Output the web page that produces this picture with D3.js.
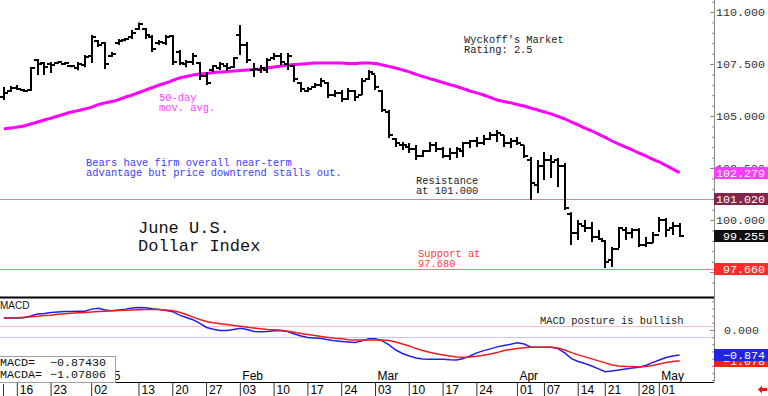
<!DOCTYPE html>
<html>
<head>
<meta charset="utf-8">
<script src="https://cdnjs.cloudflare.com/ajax/libs/d3/7.8.5/d3.min.js"></script>
<style>
  body { margin: 0; background: #fff; }
  svg { display: block; }
  .mono { font-family: "Liberation Mono", "DejaVu Sans Mono", monospace; }
  .sans { font-family: "Liberation Sans", Arial, sans-serif; }
</style>
</head>
<body>
<svg id="chart" width="768" height="396"></svg>
<script>
// trading days on the chart (Dec 12 2024 .. May 6 2025)
var dates = [
  "2024-12-12","2024-12-13","2024-12-16","2024-12-17","2024-12-18","2024-12-19","2024-12-20","2024-12-23","2024-12-24","2024-12-26","2024-12-27","2024-12-30","2024-12-31",
  "2025-01-02","2025-01-03","2025-01-06","2025-01-07","2025-01-08","2025-01-09","2025-01-10","2025-01-13","2025-01-14","2025-01-15","2025-01-16","2025-01-17",
  "2025-01-20","2025-01-21","2025-01-22","2025-01-23","2025-01-24","2025-01-27","2025-01-28","2025-01-29","2025-01-30","2025-01-31",
  "2025-02-03","2025-02-04","2025-02-05","2025-02-06","2025-02-07","2025-02-10","2025-02-11","2025-02-12","2025-02-13","2025-02-14",
  "2025-02-17","2025-02-18","2025-02-19","2025-02-20","2025-02-21","2025-02-24","2025-02-25","2025-02-26","2025-02-27","2025-02-28",
  "2025-03-03","2025-03-04","2025-03-05","2025-03-06","2025-03-07","2025-03-10","2025-03-11","2025-03-12","2025-03-13","2025-03-14",
  "2025-03-17","2025-03-18","2025-03-19","2025-03-20","2025-03-21","2025-03-24","2025-03-25","2025-03-26","2025-03-27","2025-03-28","2025-03-31",
  "2025-04-01","2025-04-02","2025-04-03","2025-04-04","2025-04-07","2025-04-08","2025-04-09","2025-04-10","2025-04-11",
  "2025-04-14","2025-04-15","2025-04-16","2025-04-17","2025-04-21","2025-04-22","2025-04-23","2025-04-24","2025-04-25",
  "2025-04-28","2025-04-29","2025-04-30","2025-05-01","2025-05-02","2025-05-05","2025-05-06"
];

var opens = [
  105.90,106.20,106.35,106.25,106.25,107.70,107.55,107.50,107.55,107.50,
  107.40,107.30,107.45,107.90,108.60,108.50,107.90,108.50,108.65,108.80,
  109.20,109.20,108.80,108.50,108.50,108.85,108.10,107.50,107.60,107.55,
  106.90,107.20,107.30,107.40,107.35,108.90,108.40,107.20,107.20,107.20,
  107.80,107.90,107.50,107.40,106.60,106.20,106.40,106.50,106.60,106.00,
  106.10,105.80,106.20,106.00,106.80,107.00,106.20,105.20,103.90,103.60,
  103.50,103.40,103.10,103.30,103.60,103.40,103.10,103.20,103.30,103.70,
  103.80,103.70,103.90,104.10,104.10,103.70,103.80,103.60,102.90,101.70,
  102.60,102.90,102.90,102.60,100.30,99.40,99.70,99.60,99.20,99.00,
  98.10,98.60,99.50,99.40,99.50,98.80,98.90,99.30,100.00,99.60,99.70
];
var highs = [
  106.40,106.44,106.49,106.30,107.36,107.74,107.60,107.60,107.62,107.58,
  107.45,107.60,107.93,108.89,108.65,108.56,108.08,108.70,108.75,109.13,
  109.50,109.23,108.89,108.65,108.89,108.89,108.17,107.69,108.03,107.60,
  107.12,107.45,107.60,107.55,107.84,109.37,108.56,107.55,107.45,107.79,
  108.03,108.03,108.03,107.45,106.63,106.39,106.59,106.83,106.63,106.25,
  106.25,106.35,106.25,106.83,107.21,106.97,106.25,105.29,103.94,103.75,
  103.70,103.61,103.37,103.75,103.75,103.51,103.46,103.51,103.75,103.85,
  103.99,104.09,104.23,104.33,104.09,103.94,103.99,103.61,103.03,102.88,
  103.27,103.13,102.98,102.74,100.38,100.00,100.00,99.90,99.52,99.04,
  98.70,99.66,99.66,99.61,99.61,99.18,99.42,100.14,100.10,99.90,99.86
];
var lows = [
  105.77,106.15,106.25,106.15,106.20,106.97,106.97,107.07,107.50,107.45,
  107.35,107.20,107.35,107.55,108.32,107.26,107.84,108.41,108.60,108.70,
  109.13,108.70,108.08,108.41,108.41,107.45,107.45,107.35,107.45,106.73,
  106.49,107.12,107.21,107.16,107.31,107.93,107.55,106.88,107.07,107.07,
  107.69,107.45,107.21,106.63,106.15,106.15,106.35,106.39,105.87,105.91,
  105.67,105.77,105.72,106.01,106.73,106.25,105.19,103.94,103.51,103.37,
  103.22,102.88,103.03,103.27,103.27,102.98,102.88,102.98,103.03,103.46,
  103.51,103.61,103.85,103.75,103.51,103.46,103.61,102.98,100.96,101.30,
  101.92,102.02,101.59,100.48,98.80,99.04,99.42,98.94,99.04,97.69,
  97.74,98.65,99.04,99.13,98.70,98.70,98.89,99.42,99.18,99.28,99.18
];
var closes = [
  106.10,106.35,106.30,106.20,107.30,107.50,107.35,107.45,107.60,107.55,
  107.40,107.50,107.85,108.80,108.40,107.50,108.00,108.60,108.70,109.00,
  109.40,108.90,108.20,108.55,108.80,107.60,107.55,107.60,107.90,106.90,
  106.60,107.40,107.50,107.30,107.80,108.40,107.70,107.25,107.30,107.70,
  107.90,107.60,107.90,106.80,106.30,106.30,106.50,106.70,106.00,106.10,
  105.80,106.20,105.90,106.70,107.10,106.40,105.30,104.10,103.70,103.60,
  103.40,103.10,103.30,103.60,103.40,103.10,103.20,103.40,103.70,103.80,
  103.70,103.90,104.10,104.20,103.70,103.80,103.70,103.10,101.80,102.60,
  102.90,102.80,102.60,100.60,99.40,99.80,99.60,99.20,99.10,98.00,
  98.60,99.60,99.40,99.50,98.80,98.90,99.30,100.00,99.50,99.70,99.255
];
// 50-day moving average
var ma50 = [
  104.38,104.42,104.47,104.52,104.62,104.71,104.81,104.90,105.00,105.10,
  105.19,105.26,105.34,105.43,105.55,105.63,105.70,105.79,105.91,106.01,
  106.13,106.25,106.37,106.49,106.59,106.71,106.83,106.90,106.97,107.02,
  107.04,107.09,107.12,107.14,107.16,107.19,107.21,107.24,107.26,107.31,
  107.36,107.40,107.45,107.48,107.50,107.52,107.55,107.55,107.55,107.55,
  107.55,107.52,107.52,107.55,107.55,107.52,107.45,107.38,107.31,107.21,
  107.12,107.00,106.90,106.80,106.71,106.61,106.51,106.42,106.32,106.20,
  106.11,106.01,105.89,105.77,105.70,105.63,105.55,105.48,105.38,105.29,
  105.19,105.10,104.98,104.86,104.71,104.57,104.42,104.28,104.13,103.97,
  103.80,103.65,103.51,103.37,103.22,103.08,102.93,102.79,102.62,102.45,102.279
];
var macd = [
  0.42,0.42,0.42,0.43,0.49,0.56,0.58,0.61,0.63,0.65,
  0.65,0.66,0.66,0.73,0.76,0.70,0.67,0.70,0.73,0.77,
  0.79,0.78,0.74,0.72,0.68,0.64,0.52,0.44,0.36,0.23,
  0.09,0.03,-0.02,-0.02,0.02,0.06,0.02,-0.05,-0.06,-0.05,
  -0.03,-0.03,-0.05,-0.14,-0.21,-0.26,-0.28,-0.30,-0.34,-0.38,
  -0.40,-0.42,-0.44,-0.38,-0.31,-0.31,-0.38,-0.52,-0.70,-0.82,
  -0.91,-0.98,-1.01,-1.02,-1.02,-1.02,-1.04,-1.05,-1.00,-0.91,
  -0.80,-0.72,-0.66,-0.59,-0.54,-0.50,-0.45,-0.49,-0.60,-0.60,
  -0.60,-0.60,-0.65,-0.80,-1.00,-1.10,-1.17,-1.26,-1.36,-1.46,
  -1.43,-1.40,-1.36,-1.33,-1.30,-1.24,-1.14,-1.05,-0.96,-0.91,-0.8743
];
var macdSignal = [
  0.42,0.42,0.43,0.45,0.46,0.48,0.51,0.52,0.55,0.57,
  0.59,0.60,0.61,0.63,0.65,0.66,0.67,0.68,0.69,0.70,
  0.71,0.72,0.72,0.72,0.70,0.67,0.62,0.54,0.45,0.37,
  0.30,0.25,0.22,0.19,0.16,0.13,0.10,0.07,0.04,0.02,
  0.01,-0.01,-0.04,-0.08,-0.12,-0.16,-0.19,-0.23,-0.26,-0.29,
  -0.31,-0.34,-0.35,-0.35,-0.35,-0.35,-0.35,-0.37,-0.42,-0.49,
  -0.56,-0.65,-0.72,-0.78,-0.83,-0.87,-0.91,-0.94,-0.95,-0.94,
  -0.92,-0.88,-0.84,-0.79,-0.72,-0.68,-0.65,-0.62,-0.60,-0.60,
  -0.60,-0.60,-0.63,-0.70,-0.79,-0.87,-0.94,-1.01,-1.08,-1.15,
  -1.22,-1.26,-1.28,-1.28,-1.29,-1.28,-1.24,-1.19,-1.14,-1.10,-1.07806
];

var resistance = 101.02, support = 97.66;
var macdBands = [0.15, -0.23];
var priceTicks = [97.5, 100, 102.5, 105, 107.5, 110];
var priceTickLabels = ["", "100.000", "102.500", "105.000", "107.500", "110.000"];
var macdTicks = [0];
var tickDates = ["2024-12-16","2024-12-23","2025-01-02","2025-01-13","2025-01-20","2025-01-27","2025-02-03","2025-02-10","2025-02-17","2025-02-24",
  "2025-03-03","2025-03-10","2025-03-17","2025-03-24","2025-04-01","2025-04-07","2025-04-14","2025-04-21","2025-04-28","2025-05-01"];
var monthDates = ["2025-01-02","2025-02-03","2025-03-03","2025-04-01","2025-05-01"];
var monthLabels = ["2025","Feb","Mar","Apr","May"];

var svg = d3.select('#chart');
var plotRight = 714;

var x = d3.scalePoint().domain(dates).range([3.8, 679.6]);
var yPrice = d3.scaleLinear().domain([96.3, 110.577]).range([297, 0]);
var yMacd = d3.scaleLinear().domain([-1.818, 1.119]).range([382, 298]);
var fmt3 = d3.format('.3f');

var ohlc = dates.map(function(d, i) {
  return {date: d, o: opens[i], h: highs[i], l: lows[i], c: closes[i], ma: ma50[i], m: macd[i], s: macdSignal[i]};
});

// resistance / support lines
svg.append('line')
  .attr('x1', 0).attr('x2', plotRight)
  .attr('y1', Math.round(yPrice(resistance)) + 0.5).attr('y2', Math.round(yPrice(resistance)) + 0.5)
  .attr('stroke', '#c98aa0');
svg.append('line')
  .attr('x1', 0).attr('x2', plotRight)
  .attr('y1', Math.round(yPrice(support)) + 0.5).attr('y2', Math.round(yPrice(support)) + 0.5)
  .attr('stroke', '#f07a7a');

// moving average
svg.append('path')
  .datum(ohlc)
  .attr('fill', 'none')
  .attr('stroke', '#ff00ff')
  .attr('stroke-width', 3)
  .attr('d', d3.line().curve(d3.curveMonotoneX)
    .x(function(d) { return x(d.date); })
    .y(function(d) { return yPrice(d.ma); }));

// OHLC bars
var bar = svg.append('g').attr('stroke', '#000').attr('stroke-width', 2)
  .selectAll('g').data(ohlc).enter().append('g');
bar.append('line')
  .attr('x1', function(d) { return Math.round(x(d.date)); })
  .attr('x2', function(d) { return Math.round(x(d.date)); })
  .attr('y1', function(d) { return yPrice(d.h); })
  .attr('y2', function(d) { return yPrice(d.l); });
bar.append('line')
  .attr('x1', function(d) { return Math.round(x(d.date)) - 4; })
  .attr('x2', function(d) { return Math.round(x(d.date)); })
  .attr('y1', function(d) { return Math.round(yPrice(d.o)); })
  .attr('y2', function(d) { return Math.round(yPrice(d.o)); });
bar.append('line')
  .attr('x1', function(d) { return Math.round(x(d.date)); })
  .attr('x2', function(d) { return Math.round(x(d.date)) + 4; })
  .attr('y1', function(d) { return Math.round(yPrice(d.c)); })
  .attr('y2', function(d) { return Math.round(yPrice(d.c)); });

// annotations
function label(txt, xx, yy, color, size, cls) {
  svg.append('text').attr('class', cls || 'mono')
    .attr('x', xx).attr('y', yy)
    .attr('fill', color).attr('font-size', size)
    .text(txt);
}
label("Wyckoff's Market", 464, 43, '#222', 10.4);
label("Rating: 2.5", 464, 53, '#222', 10.4);
label("50-day", 159, 101, '#ff44ff', 10.4);
label("mov. avg.", 159, 111, '#ff44ff', 10.4);
label("Bears have firm overall near-term", 86, 166, '#3c3cff', 10.4);
label("advantage but price downtrend stalls out.", 86, 176, '#3c3cff', 10.4);
label("Resistance", 416, 184, '#222', 10.4);
label("at 101.000", 416, 194, '#222', 10.4);
label("June U.S.", 138, 233, '#111', 17);
label("Dollar Index", 138, 251, '#111', 17);
label("Support at", 418, 257, '#ff4040', 10.4);
label("97.680", 418, 267, '#ff4040', 10.4);

// MACD panel
macdBands.forEach(function(v, i) {
  svg.append('line')
    .attr('x1', 0).attr('x2', plotRight)
    .attr('y1', Math.round(yMacd(v)) + 0.5).attr('y2', Math.round(yMacd(v)) + 0.5)
    .attr('stroke', i === 0 ? '#f6c4c4' : '#c6c6fa');
});
svg.append('path').datum(ohlc)
  .attr('fill', 'none').attr('stroke', '#1f1ff0').attr('stroke-width', 1.5)
  .attr('d', d3.line().x(function(d) { return x(d.date); }).y(function(d) { return yMacd(d.m); }));
svg.append('path').datum(ohlc)
  .attr('fill', 'none').attr('stroke', '#f01a1a').attr('stroke-width', 1.5)
  .attr('d', d3.line().x(function(d) { return x(d.date); }).y(function(d) { return yMacd(d.s); }));
label("MACD", 0, 309, '#111', 10, 'sans');
label("MACD posture is bullish", 540, 324, '#222', 10.4);

// panel borders
svg.append('line').attr('x1', 0).attr('x2', plotRight).attr('y1', 297.5).attr('y2', 297.5)
  .attr('stroke', '#000').attr('stroke-width', 2);
svg.append('line').attr('x1', 0).attr('x2', plotRight).attr('y1', 382.5).attr('y2', 382.5)
  .attr('stroke', '#000');
svg.append('line').attr('x1', plotRight + 0.5).attr('x2', plotRight + 0.5).attr('y1', 0).attr('y2', 382)
  .attr('stroke', '#8a8a8a');

// right price axis
function styleAxis(g) {
  g.select('.domain').remove();
  g.selectAll('line').attr('stroke', '#8a8a8a');
  g.selectAll('text').attr('class', 'mono').attr('font-size', 11.7).attr('fill', '#333');
}
svg.append('g').attr('transform', 'translate(' + plotRight + ',0)')
  .call(d3.axisRight(yPrice).tickValues(d3.range(97, 110.6, 0.5)).tickSize(-2).tickFormat(''))
  .call(styleAxis);
svg.append('g').attr('transform', 'translate(' + plotRight + ',0)')
  .call(d3.axisRight(yPrice).tickValues(priceTicks).tickSizeInner(-4).tickSizeOuter(0).tickPadding(2)
    .tickFormat(function(d, i) { return priceTickLabels[i]; }))
  .call(styleAxis);
svg.append('g').attr('transform', 'translate(' + plotRight + ',0)')
  .call(d3.axisRight(yMacd).tickValues(d3.range(-1.75, 1.01, 0.25)).tickSize(-2).tickFormat(''))
  .call(styleAxis);
svg.append('g').attr('transform', 'translate(' + plotRight + ',0)')
  .call(d3.axisRight(yMacd).tickValues(macdTicks).tickSizeInner(-4).tickSizeOuter(0).tickPadding(10).tickFormat(fmt3))
  .call(styleAxis);

// value boxes on the right axis
function valueBox(yy, v, bg, txt) {
  var cy = Math.round(yy(v));
  svg.append('rect').attr('x', plotRight).attr('y', cy - 6).attr('width', 768 - plotRight).attr('height', 12)
    .attr('fill', bg);
  svg.append('text').attr('class', 'mono').attr('x', 765).attr('y', cy + 4)
    .attr('text-anchor', 'end').attr('font-size', 11.7).attr('fill', '#fff')
    .text(txt);
}
valueBox(yPrice, ma50[ma50.length - 1], '#ff3cff', fmt3(ma50[ma50.length - 1]));
valueBox(yPrice, resistance, '#832449', fmt3(resistance));
valueBox(yPrice, closes[closes.length - 1], '#111', fmt3(closes[closes.length - 1]));
valueBox(yPrice, support, '#ff2a2a', fmt3(support));
valueBox(yMacd, macdSignal[macdSignal.length - 1], '#f02020', fmt3(macdSignal[macdSignal.length - 1]));
valueBox(yMacd, macd[macd.length - 1], '#2323e6', fmt3(macd[macd.length - 1]));

// date axis
var xAxis = svg.append('g').attr('transform', 'translate(0,383)')
  .call(d3.axisBottom(x).tickValues(tickDates).tickSizeInner(13).tickSizeOuter(0)
    .tickFormat(function(d) { return d.slice(8); }));
xAxis.select('.domain').remove();
xAxis.selectAll('line').attr('stroke', '#333')
  .attr('transform', 'translate(-0.5,0)');
xAxis.selectAll('text').attr('class', 'sans').attr('font-size', 12).attr('fill', '#000')
  .attr('text-anchor', 'start').attr('x', 2).attr('y', 11).attr('dy', null);
svg.append('line').attr('x1', 3.5).attr('x2', 3.5).attr('y1', 384).attr('y2', 396).attr('stroke', '#333');

svg.append('g').selectAll('text').data(monthDates).enter().append('text')
  .attr('class', 'sans').attr('font-size', 12).attr('fill', '#000')
  .attr('x', function(d) { return x(d) + 2; }).attr('y', 380)
  .text(function(d, i) { return monthLabels[i]; });

// MACD readout box
svg.append('rect').attr('x', -1).attr('y', 356.5).attr('width', 116.5).attr('height', 26)
  .attr('fill', '#fff').attr('stroke', '#a0a0a0');
label("MACD=", 0, 366, '#111', 11.7);
label(d3.format('.5f')(macd[macd.length - 1]), 50, 366, '#111', 11.7);
label("MACDA=", 0, 378, '#111', 11.7);
label(d3.format('.5f')(macdSignal[macdSignal.length - 1]), 50, 378, '#111', 11.7);

// small red arrow in the corner
svg.append('path').attr('d', 'M758,389.5 L762,385.5 L762,388 L767,388 L767,391 L762,391 L762,393.5 Z')
  .attr('fill', '#ee1111');
</script>
</body>
</html>
